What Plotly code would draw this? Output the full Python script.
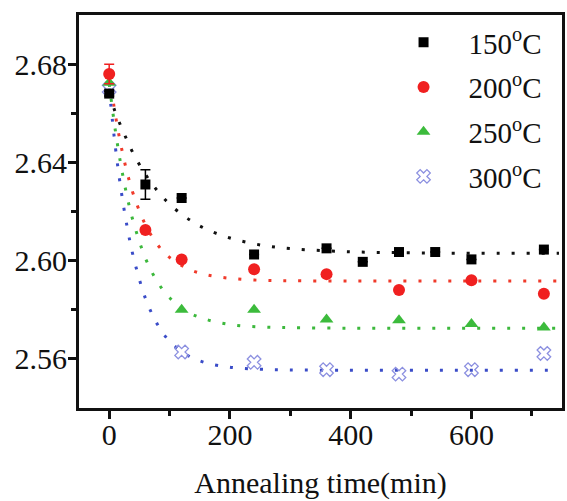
import plotly.graph_objects as go

# measured data
t_data = [0, 60, 120, 240, 360, 420, 480, 540, 600, 720]
y150 = [2.668, 2.631, 2.6255, 2.6025, 2.6050, 2.5995, 2.6035, 2.6035, 2.6005, 2.6045]
e150 = [0.001, 0.006, 0, 0, 0, 0, 0, 0, 0, 0]

t_other = [0, 60, 120, 240, 360, 480, 600, 720]
y200 = [2.676, 2.6125, 2.6005, 2.5965, 2.5945, 2.5880, 2.5920, 2.5865]
e200 = [0.004, 0, 0, 0, 0, 0, 0, 0]

t250 = [0, 120, 240, 360, 480, 600, 720]
y250 = [2.6724, 2.5800, 2.5800, 2.5760, 2.5757, 2.5742, 2.5728]

t300 = [0, 120, 240, 360, 480, 600, 720]
y300 = [2.6700, 2.5628, 2.5586, 2.5556, 2.5538, 2.5556, 2.5622]

# fitted curves
t_fit = [0, 10, 20, 30, 40, 60, 80, 100, 130, 160, 200, 250, 300, 400, 500, 600, 745]
fit150 = [2.668, 2.6605, 2.6544, 2.6488, 2.6436, 2.6351, 2.6284, 2.6230, 2.6171, 2.6129, 2.6092, 2.6064, 2.6049, 2.6036, 2.6032, 2.6030, 2.6030]
fit200 = [2.676, 2.6596, 2.6463, 2.6356, 2.6270, 2.6146, 2.6065, 2.6013, 2.5967, 2.5943, 2.5928, 2.5920, 2.5918, 2.5917, 2.5917, 2.5917, 2.5917]
fit250 = [2.672, 2.6533, 2.6381, 2.6257, 2.6158, 2.6010, 2.5913, 2.5849, 2.5791, 2.5761, 2.5740, 2.5730, 2.5727, 2.5725, 2.5725, 2.5725, 2.5725]
fit300 = [2.670, 2.6467, 2.6282, 2.6134, 2.6016, 2.5847, 2.5740, 2.5672, 2.5614, 2.5584, 2.5566, 2.5558, 2.5555, 2.5554, 2.5554, 2.5554, 2.5554]

labels = ["150<sup>o</sup>C", "200<sup>o</sup>C", "250<sup>o</sup>C", "300<sup>o</sup>C"]

FONT = "Liberation Serif"
INK = "#111111"
fig = go.Figure()

fit_colors = ["#111111", "#f03a2a", "#3cb83c", "#3a4cc8"]
for yf, c in zip([fit150, fit200, fit250, fit300], fit_colors):
    fig.add_trace(go.Scatter(x=t_fit, y=yf, mode="lines", line=dict(color=c, width=3, dash="3px,12px", shape="spline"),
                             showlegend=False, hoverinfo="skip"))

fig.add_trace(go.Scatter(x=t300, y=y300, mode="markers", name=labels[3], legendrank=4, legendgroup="g4",
                         marker=dict(symbol="x-open", size=12, color="#8c90e0", line=dict(width=1.3, color="#8c90e0"))))
fig.add_trace(go.Scatter(x=t250, y=y250, mode="markers", name=labels[2], legendrank=3, legendgroup="g3",
                         marker=dict(symbol="triangle-up", size=12, color="#3cbb3c")))
fig.add_trace(go.Scatter(x=t_other, y=y200, mode="markers", name=labels[1], legendrank=2, legendgroup="g2",
                         error_y=dict(type="data", array=e200, color="#f02020", thickness=1.5, width=5),
                         marker=dict(symbol="circle", size=12, color="#f02020")))
fig.add_trace(go.Scatter(x=t_data, y=y150, mode="markers", name=labels[0], legendrank=1, legendgroup="g1",
                         error_y=dict(type="data", array=e150, color="#000000", thickness=1.5, width=5),
                         marker=dict(symbol="square", size=10, color="#000000")))

axis_common = dict(showline=True, linecolor=INK, linewidth=3, mirror=True, showgrid=False, zeroline=False,
                   ticks="outside", tickcolor=INK, tickwidth=3, ticklen=8,
                   tickfont=dict(family=FONT, size=30, color=INK))

fig.update_xaxes(range=[-50, 750], tickvals=[0, 200, 400, 600], ticklabelstandoff=-10,
                 minor=dict(tickvals=[100, 300, 500, 700], ticks="outside", ticklen=5, tickwidth=3, tickcolor=INK),
                 title=dict(text="Annealing time(min)", font=dict(family=FONT, size=30, color=INK), standoff=22),
                 **axis_common)
fig.update_yaxes(range=[2.54, 2.70], tickvals=[2.56, 2.60, 2.64, 2.68], ticktext=["2.56", "2.60", "2.64", "2.68"],
                 ticklabelstandoff=-5,
                 minor=dict(tickvals=[2.58, 2.62, 2.66], ticks="outside", ticklen=5, tickwidth=3, tickcolor=INK),
                 **axis_common)

fig.update_layout(
    width=567, height=501,
    margin=dict(l=79, r=2, t=15, b=93),
    paper_bgcolor="white", plot_bgcolor="white",
    legend=dict(x=0.968, y=0.995, xanchor="right", yanchor="top", bgcolor="rgba(0,0,0,0)",
                font=dict(family=FONT, size=29, color=INK), itemwidth=80, tracegroupgap=4),
)

fig.write_html("out.html")
